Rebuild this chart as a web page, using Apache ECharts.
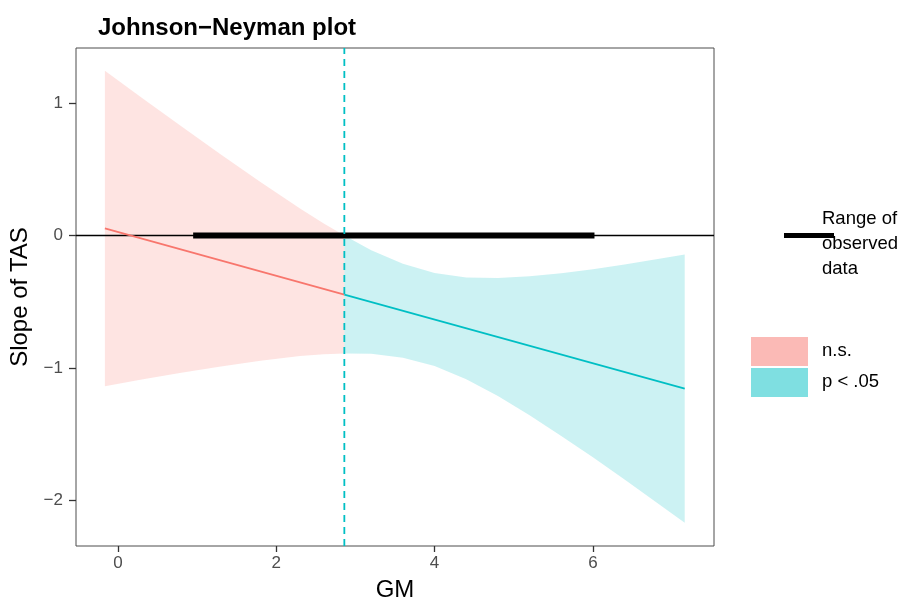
<!DOCTYPE html>
<html>
<head>
<meta charset="utf-8">
<script src="https://cdn.jsdelivr.net/npm/echarts@6/dist/echarts.min.js"></script>
<style>html,body{margin:0;padding:0;background:#fff;}#c{width:915px;height:602px;}</style>
</head>
<body>
<div id="c"></div>
<script>
// ---- data ----
const xTicks = [0, 2, 4, 6];
const yTicks = [-2, -1, 0, 1];
const jnPoint = 2.86;               // Johnson-Neyman boundary (dashed line)
const observedRange = [0.95, 6.02]; // range of observed data (thick bar)

// n.s. region (pink)
const nsX     = [-0.165, 0.3, 0.8, 1.3, 1.8, 2.3, 2.6, 2.86];
const nsUpper = [1.243, 1.040, 0.824, 0.611, 0.403, 0.204, 0.090, 0.0];
const nsLower = [-1.137, -1.087, -1.036, -0.988, -0.945, -0.910, -0.896, -0.890];
const nsEstX  = [-0.165, 2.86];
const nsEst   = [0.053, -0.446];

// p < .05 region (cyan)
const sigX     = [2.86, 3.2, 3.6, 4.0, 4.4, 4.8, 5.2, 5.6, 6.0, 6.4, 6.8, 7.16];
const sigUpper = [0.0, -0.111, -0.214, -0.283, -0.316, -0.321, -0.308, -0.284, -0.254, -0.218, -0.180, -0.143];
const sigLower = [-0.890, -0.893, -0.922, -0.985, -1.084, -1.211, -1.356, -1.512, -1.674, -1.842, -2.012, -2.167];
const sigEstX  = [2.86, 7.16];
const sigEst   = [-0.446, -1.155];

// ---- chart ----
const FONT = 'Liberation Sans';
const PINK = '#F8766D', CYAN = '#00BFC4';
const xMin = -0.53, xMax = 7.53, yMin = -2.343, yMax = 1.415;

function ribbon(xs, lo, hi, color) {
  return {
    type: 'custom', silent: true, z: 1,
    data: xs.map((x, i) => [x, lo[i], hi[i]]),
    encode: { x: 0, y: [1, 2] },
    renderItem: function (params, api) {
      if (params.dataIndex !== 0) return null;
      const pts = [];
      for (let i = 0; i < xs.length; i++) pts.push(api.coord([xs[i], hi[i]]));
      for (let i = xs.length - 1; i >= 0; i--) pts.push(api.coord([xs[i], lo[i]]));
      return { type: 'polygon', shape: { points: pts }, style: { fill: color, opacity: 0.2 } };
    }
  };
}
function line(xs, ys, color, width, z, extra) {
  return Object.assign({
    type: 'line', symbol: 'none', silent: true, z: z,
    data: xs.map((x, i) => [x, ys[i]]),
    lineStyle: { color: color, width: width }
  }, extra || {});
}
const minus = v => String(v).replace('-', '\u2212');

const chart = echarts.init(document.getElementById('c'), null, { renderer: 'canvas' });
chart.setOption({
  animation: false,
  backgroundColor: '#fff',
  textStyle: { fontFamily: FONT },
  title: {
    text: 'Johnson\u2212Neyman plot', left: 93, top: 11,
    textStyle: { fontFamily: FONT, fontSize: 24, fontWeight: 'bold', color: '#000' }
  },
  grid: { left: 76, right: 201, top: 48, bottom: 56, show: true, borderColor: '#4d4d4d', borderWidth: 1,
          backgroundColor: 'transparent', containLabel: false, outerBoundsMode: 'none' },
  xAxis: {
    type: 'value', min: xMin, max: xMax, position: 'bottom',
    name: 'GM', nameLocation: 'middle', nameGap: 32,
    nameTextStyle: { fontFamily: FONT, fontSize: 24, color: '#000' },
    axisLine: { show: false, onZero: false },
    splitLine: { show: false },
    axisTick: { show: true, customValues: xTicks, length: 6, lineStyle: { color: '#333', width: 1.3 } },
    axisLabel: { customValues: xTicks, color: '#4D4D4D', fontSize: 17, margin: 9, formatter: minus }
  },
  yAxis: {
    type: 'value', min: yMin, max: yMax, position: 'left',
    name: 'Slope of TAS', nameLocation: 'middle', nameGap: 41, nameRotate: 90,
    nameTextStyle: { fontFamily: FONT, fontSize: 24, color: '#000' },
    axisLine: { show: false, onZero: false },
    splitLine: { show: false },
    axisTick: { show: true, customValues: yTicks, length: 7, lineStyle: { color: '#333', width: 1.3 } },
    axisLabel: { customValues: yTicks, color: '#4D4D4D', fontSize: 17, margin: 13, formatter: minus }
  },
  series: [
    ribbon(nsX, nsLower, nsUpper, PINK),
    ribbon(sigX, sigLower, sigUpper, CYAN),
    line([xMin, xMax], [0, 0], '#000', 1.7, 3),
    line(observedRange, [0, 0], '#000', 6, 4),
    line(nsEstX, nsEst, PINK, 1.8, 5),
    line(sigEstX, sigEst, CYAN, 1.8, 5),
    line([jnPoint, jnPoint], [yMin, yMax], CYAN, 1.8, 6, { lineStyle: { color: CYAN, width: 1.8, type: [7, 5] } })
  ],
  graphic: [
    { type: 'rect', left: 784, top: 233, shape: { width: 50, height: 5 }, style: { fill: '#000' } },
    { type: 'text', left: 822, top: 206, style: { text: 'Range of\nobserved\ndata', font: '18.5px "Liberation Sans"', fill: '#000', lineHeight: 25 } },
    { type: 'rect', left: 751, top: 337, shape: { width: 57, height: 29 }, style: { fill: PINK, opacity: 0.5 } },
    { type: 'rect', left: 751, top: 368, shape: { width: 57, height: 29 }, style: { fill: CYAN, opacity: 0.5 } },
    { type: 'text', left: 822, top: 341, style: { text: 'n.s.', font: '18.5px "Liberation Sans"', fill: '#000' } },
    { type: 'text', left: 822, top: 372, style: { text: 'p < .05', font: '18.5px "Liberation Sans"', fill: '#000' } }
  ]
});
</script>
</body>
</html>
